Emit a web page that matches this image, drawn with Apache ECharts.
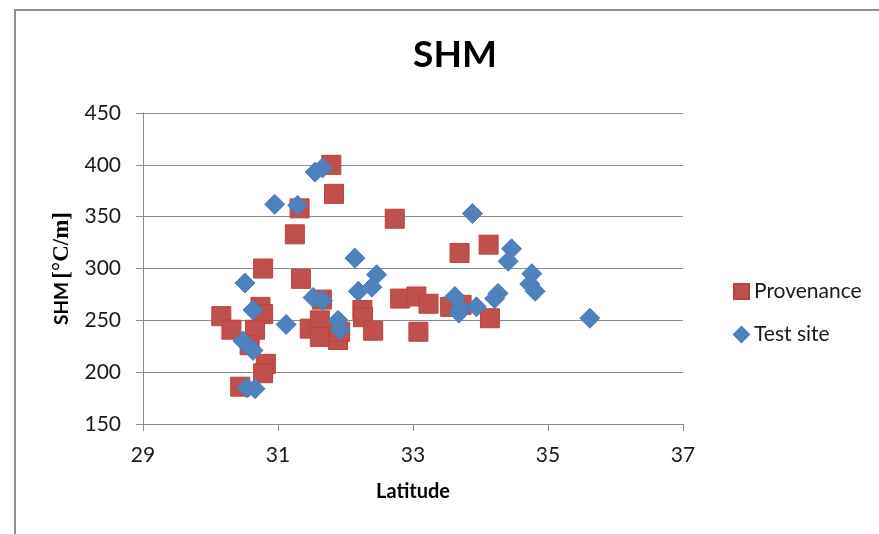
<!DOCTYPE html>
<html>
<head>
<meta charset="utf-8">
<script src="https://cdn.jsdelivr.net/npm/echarts@6/dist/echarts.min.js"></script>
<style>
  html, body { margin: 0; padding: 0; background: #fff; }
  #chart { width: 879px; height: 534px; }
</style>
</head>
<body>
<div id="chart"></div>
<script>
// Latitude / SHM pairs for seed provenance locations
const provenanceLat = [31.79, 31.83, 31.32, 32.73, 31.25, 30.78, 31.34, 30.16, 30.31, 30.74,
                       30.78, 30.66, 30.58, 30.82, 30.78, 30.44, 31.65, 31.47, 31.62, 31.62,
                       31.89, 31.92, 32.25, 32.26, 32.41, 32.81, 33.05, 33.08, 33.69, 34.12,
                       33.23, 33.55, 33.72, 34.14];
const provenanceSHM = [400, 372, 358, 348, 333, 300, 290, 254, 241, 263,
                       256, 241, 226, 208, 199, 186, 270, 242, 250, 234,
                       231, 239, 260, 253, 240, 271, 273, 239, 315, 323,
                       266, 263, 265, 252];

// Latitude / SHM pairs for the test sites
const testLat = [31.55, 31.66, 30.95, 31.29, 32.14, 30.51, 32.46, 32.39, 32.19, 31.52,
                 31.66, 30.63, 31.12, 31.89, 31.92, 30.48, 30.63, 30.54, 30.66, 33.88,
                 34.46, 34.41, 34.76, 34.73, 34.81, 33.62, 33.70, 33.68, 33.94, 34.26,
                 34.21, 35.62];
const testSHM = [393, 397, 362, 361, 310, 286, 294, 282, 278, 272,
                 269, 260, 246, 250, 241, 230, 221, 185, 184, 353,
                 319, 307, 295, 285, 278, 273, 262, 257, 263, 276,
                 271, 252];

const seriesNames = ['Provenance', 'Test site'];
const titleText = 'SHM';
const xAxisTitle = 'Latitude';
const yAxisQuantity = 'SHM';
const yAxisUnit = '[°C/m]';

const pairs = (xs, ys) => xs.map((x, i) => [x, ys[i]]);

const FONT = 'Lato, "Open Sans", sans-serif';
const AXIS_GRAY = '#8c8c8c';

const chart = echarts.init(document.getElementById('chart'), null, { renderer: 'canvas' });

chart.setOption({
  animation: false,
  backgroundColor: '#ffffff',
  graphic: [
    {
      type: 'rect',
      shape: { x: 15, y: 10, width: 900, height: 600 },
      style: { fill: 'none', stroke: '#8f8f8f', lineWidth: 2 },
      silent: true
    },
    {
      type: 'text',
      x: 455,
      y: 55,
      style: {
        text: titleText,
        fill: '#000',
        font: 'bold 37px ' + FONT,
        textAlign: 'center',
        textVerticalAlign: 'middle'
      }
    }
  ],
  legend: {
    orient: 'vertical',
    left: 728,
    top: 276,
    itemGap: 22,
    itemWidth: 15,
    itemHeight: 15,
    textStyle: { fontFamily: FONT, fontSize: 21, color: '#1a1a1a' },
    data: [
      { name: seriesNames[0], icon: 'rect' },
      { name: seriesNames[1], icon: 'diamond' }
    ]
  },
  grid: { left: 143, right: 196, top: 113, bottom: 110 },
  xAxis: {
    type: 'value',
    min: 29,
    max: 37,
    interval: 2,
    name: xAxisTitle,
    nameLocation: 'middle',
    nameGap: 58,
    nameTextStyle: { fontFamily: FONT, fontSize: 20, fontWeight: 'bold', color: '#000' },
    axisLine: { show: true, onZero: false, lineStyle: { color: AXIS_GRAY, width: 1 } },
    axisTick: { show: true, inside: false, length: 7, lineStyle: { color: AXIS_GRAY } },
    axisLabel: { margin: 21, fontFamily: FONT, fontSize: 21, color: '#1a1a1a' },
    splitLine: { show: false }
  },
  yAxis: {
    type: 'value',
    min: 150,
    max: 450,
    interval: 50,
    name: '{q|' + yAxisQuantity + '} {u|' + yAxisUnit + '}',
    nameLocation: 'middle',
    nameGap: 68,
    nameTextStyle: {
      color: '#000',
      rich: {
        q: { fontFamily: FONT, fontSize: 19, fontWeight: 'bold', color: '#000' },
        u: { fontFamily: '"Liberation Serif", serif', fontSize: 23, fontWeight: 'bold', color: '#000' }
      }
    },
    axisLine: { show: true, onZero: false, lineStyle: { color: AXIS_GRAY, width: 1 } },
    axisTick: { show: true, inside: false, length: 7, lineStyle: { color: AXIS_GRAY } },
    axisLabel: { margin: 22, fontFamily: FONT, fontSize: 21, color: '#1a1a1a' },
    splitLine: { show: true, lineStyle: { color: AXIS_GRAY, width: 1 } }
  },
  series: [
    {
      name: seriesNames[0],
      type: 'scatter',
      symbol: 'rect',
      symbolSize: 19,
      itemStyle: { color: '#C0504D', borderColor: '#B9433F', borderWidth: 1, opacity: 1 },
      data: pairs(provenanceLat, provenanceSHM)
    },
    {
      name: seriesNames[1],
      type: 'scatter',
      symbol: 'diamond',
      symbolSize: 20,
      itemStyle: { color: '#4F81BD', borderColor: '#4A7EBB', borderWidth: 1, opacity: 1 },
      data: pairs(testLat, testSHM)
    }
  ]
});
</script>
</body>
</html>
